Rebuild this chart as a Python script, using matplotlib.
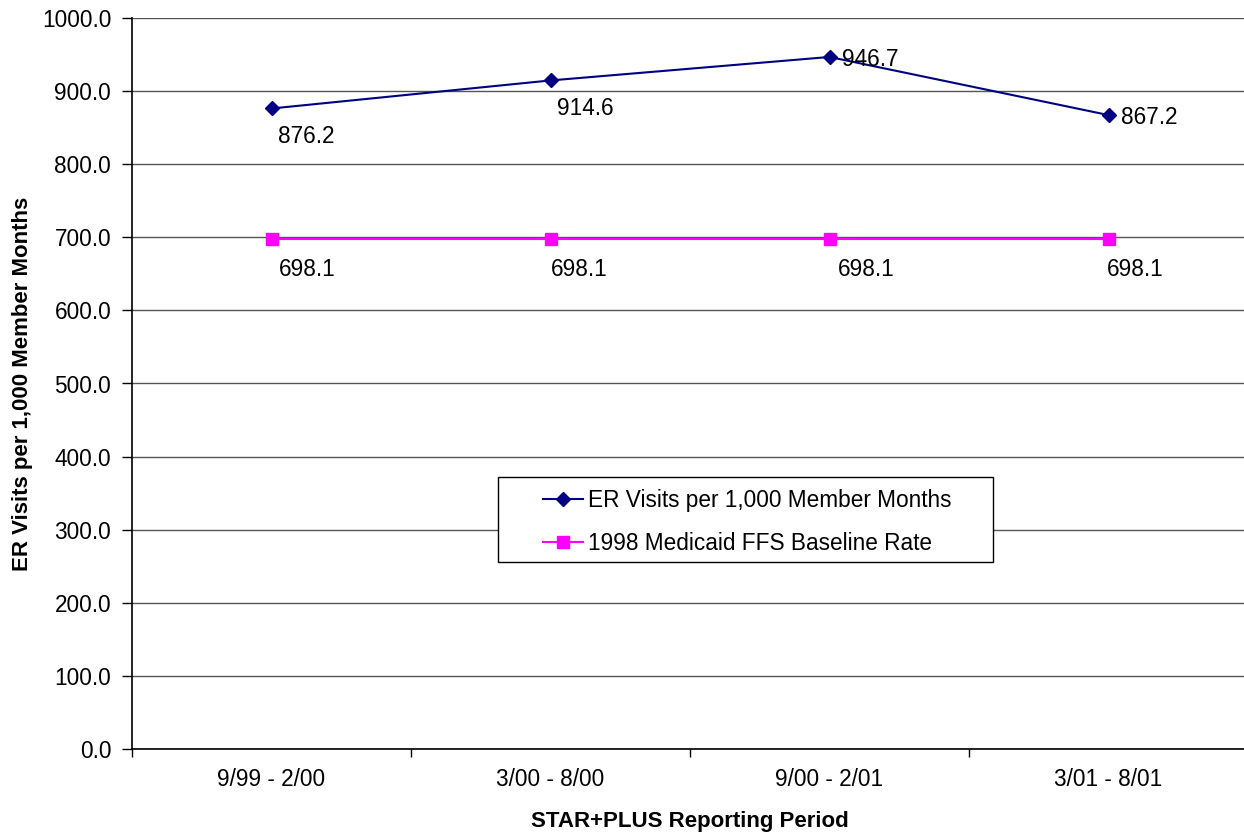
import matplotlib.pyplot as plt
from matplotlib.patches import Rectangle

plt.rcParams['font.family'] = ['Liberation Sans', 'DejaVu Sans']

periods = ["9/99 - 2/00", "3/00 - 8/00", "9/00 - 2/01", "3/01 - 8/01"]
er_visits = [876.2, 914.6, 946.7, 867.2]
baseline = [698.1, 698.1, 698.1, 698.1]

W, H = 1244, 838
fig = plt.figure(figsize=(W / 100, H / 100), dpi=100)
ax = fig.add_axes([132 / W, 89 / H, 1116 / W, 731 / H])

x = list(range(len(periods)))
ax.plot(x, er_visits, color='#000080', lw=1.5, marker='D', ms=7.5,
        label='ER Visits per 1,000 Member Months', zorder=3)
ax.plot(x, baseline, color='#FF00FF', lw=1.5, marker='s', ms=8,
        label='1998 Medicaid FFS Baseline Rate', zorder=3)

# data labels (offsets in points)
er_off = [(5, -20), (5, -20), (9, -2), (9, -2)]
for i, v in enumerate(er_visits):
    ax.annotate(f"{v:.1f}", (x[i], v), xytext=er_off[i], textcoords='offset points',
                fontsize=16.3, va='center', ha='left')
base_off = [(5, -22), (0, -22), (6, -22), (-1, -22)]
for i, v in enumerate(baseline):
    ax.annotate(f"{v:.1f}", (x[i], v), xytext=base_off[i], textcoords='offset points',
                fontsize=16.3, va='center', ha='left')

ax.set_xlim(-0.5, 3.5)
ax.set_ylim(0, 1000)
ax.set_yticks(range(0, 1001, 100))
ax.set_yticklabels([f"{v:.1f}" for v in range(0, 1001, 100)], fontsize=16.3)
ax.set_xticks(x)
ax.set_xticklabels(periods, fontsize=16.3)
ax.set_xticks([i - 0.5 for i in range(5)], minor=True)
ax.tick_params(axis='x', which='major', length=0, pad=14)
ax.tick_params(axis='x', which='minor', length=6, width=1, direction='out')
ax.tick_params(axis='y', length=7, width=1, pad=8)

ax.grid(axis='y', color='#555555', lw=1)
ax.set_axisbelow(True)
for s in ['top', 'right']:
    ax.spines[s].set_visible(False)
ax.spines['left'].set_linewidth(1.2)
ax.spines['bottom'].set_linewidth(1.2)

ax.set_xlabel("STAR+PLUS Reporting Period", fontsize=16, fontweight='bold', labelpad=14)
ax.set_ylabel("ER Visits per 1,000 Member Months", fontsize=16, fontweight='bold', labelpad=6)

# legend box drawn separately so the side padding can be wider than top/bottom
ax.add_patch(Rectangle((498 / W, 1 - 562 / H), 495 / W, 85 / H,
                       transform=fig.transFigure, facecolor='white',
                       edgecolor='black', lw=1, zorder=4, clip_on=False))
leg = ax.legend(loc='center left', bbox_to_anchor=(543 / W, 1 - 522 / H),
                bbox_transform=fig.transFigure, fontsize=16.3, frameon=False,
                handlelength=1.75, handletextpad=0.25, borderpad=0,
                borderaxespad=0, labelspacing=0.85)
leg.set_zorder(5)

fig.savefig("out.png", dpi=100)
